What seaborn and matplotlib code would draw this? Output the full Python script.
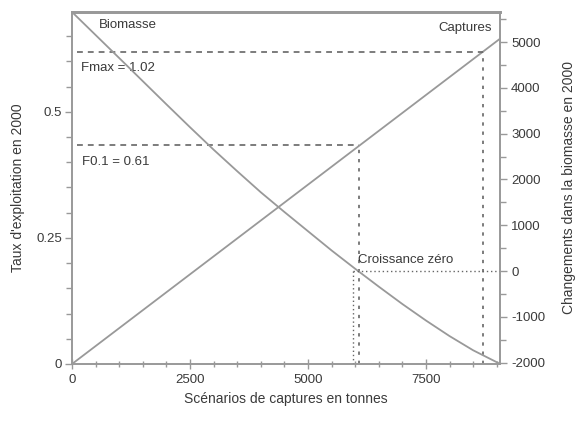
import matplotlib
matplotlib.use("Agg")
import matplotlib.pyplot as plt
import seaborn as sns
import pandas as pd
from matplotlib.ticker import MultipleLocator

# Data
catch_t = [0, 1000, 2000, 2500, 3000, 3500, 4000, 4500, 5000, 5500, 6000,
           6500, 7000, 7500, 8000, 8500, 9000, 9070]
biomass_change = [5655, 4650, 3640, 3140, 2650, 2180, 1720, 1290, 870, 450, 50,
                  -340, -720, -1080, -1420, -1730, -1990, -2030]
capture_catch = [0, 9070]
exploitation_rate = [0.0, 0.645]

fmax_rate = 0.619
fmax_catch = 8708
f01_rate = 0.4345
f01_catch = 6080
zero_growth_catch = 5960

x_ticks = [0, 2500, 5000, 7500]
left_ticks = [0, 0.25, 0.5]
left_tick_labels = ["0", "0.25", "0.5"]
right_ticks = [-2000, -1000, 0, 1000, 2000, 3000, 4000, 5000]

sns.set_theme(style="white")
plt.rcParams['font.family'] = ['Liberation Sans', 'DejaVu Sans']

txt = "#3a3a3a"
line_c = "#999999"
ref_c = "#666666"
spine_c = "#999999"

fig = plt.figure(figsize=(5.82, 4.21), dpi=100)
ax = fig.add_axes([72/582, 1-364/421, (500-72)/582, (364-12)/421])
ax2 = ax.twinx()

df_cap = pd.DataFrame({"catch": capture_catch, "rate": exploitation_rate})
df_bio = pd.DataFrame({"catch": catch_t, "bio": biomass_change})

sns.lineplot(data=df_cap, x="catch", y="rate", ax=ax, color=line_c, lw=1.3)
sns.lineplot(data=df_bio, x="catch", y="bio", ax=ax2, color=line_c, lw=1.3)

ax.set_xlim(0, 9070)
ax.set_ylim(0, 0.698)
ax2.set_ylim(-2030, 5655)

# reference lines
ax.plot([100, fmax_catch], [fmax_rate, fmax_rate], color=ref_c, lw=1.2,
        dashes=(3.5, 3))
ax.plot([100, f01_catch], [f01_rate, f01_rate], color=ref_c, lw=1.2,
        dashes=(3.5, 3))
ax.plot([fmax_catch, fmax_catch], [0, fmax_rate], color=ref_c, lw=1.2,
        dashes=(2, 3.5))
ax.plot([f01_catch, f01_catch], [0, f01_rate], color=ref_c, lw=1.2,
        dashes=(2, 3.5))
ax2.plot([zero_growth_catch, zero_growth_catch], [-2030, 0], color=ref_c,
         lw=1.0, dashes=(1, 2))
ax2.plot([zero_growth_catch, 9070], [0, 0], color=ref_c, lw=1.0, dashes=(1, 2))

# annotations
ax.text(560, 0.672, "Biomasse", fontsize=9.5, color=txt, va="center", ha="left")
ax.text(8900, 0.666, "Captures", fontsize=9.5, color=txt, va="center", ha="right")
ax.text(200, 0.587, "Fmax = 1.02", fontsize=9.5, color=txt, va="center", ha="left")
ax.text(220, 0.400, "F0.1 = 0.61", fontsize=9.5, color=txt, va="center", ha="left")
ax2.text(6060, 250, "Croissance zéro", fontsize=9.5, color=txt, va="center", ha="left")

# axes styling
ax.set_xticks(x_ticks)
ax.set_xticklabels([str(v) for v in x_ticks])
ax.xaxis.set_minor_locator(MultipleLocator(500))
ax.set_yticks(left_ticks)
ax.set_yticklabels(left_tick_labels)
ax.yaxis.set_minor_locator(MultipleLocator(0.05))
ax2.set_yticks(right_ticks)
ax2.set_yticklabels([str(v) for v in right_ticks])
ax2.yaxis.set_minor_locator(MultipleLocator(500))

for a in (ax, ax2):
    for s in a.spines.values():
        s.set_color(spine_c)
        s.set_linewidth(1.2)
    a.spines['top'].set_linewidth(2.0)

ax.tick_params(axis='x', which='both', direction='inout', color=spine_c,
               labelcolor=txt, labelsize=9.5, pad=4, bottom=True)
ax.tick_params(axis='x', which='major', length=7, width=1)
ax.tick_params(axis='x', which='minor', length=5, width=1)
ax.tick_params(axis='y', which='both', direction='out', color=spine_c,
               labelcolor=txt, labelsize=9.5, pad=2, left=True)
ax.tick_params(axis='y', which='major', length=5, width=1)
ax.tick_params(axis='y', which='minor', length=4, width=1)
ax2.tick_params(axis='y', which='both', direction='out', color=spine_c,
                labelcolor=txt, labelsize=9.5, pad=3, right=True)
ax2.tick_params(axis='y', which='major', length=5, width=1)
ax2.tick_params(axis='y', which='minor', length=4, width=1)

ax.set_xlabel("Scénarios de captures en tonnes", fontsize=10, color=txt,
              labelpad=4)
ax.set_ylabel("Taux d'exploitation en 2000", fontsize=10, color=txt,
              labelpad=8)
ax2.set_ylabel("Changements dans la biomasse en 2000", fontsize=10, color=txt,
               labelpad=12)

fig.savefig("out.png", dpi=100)
